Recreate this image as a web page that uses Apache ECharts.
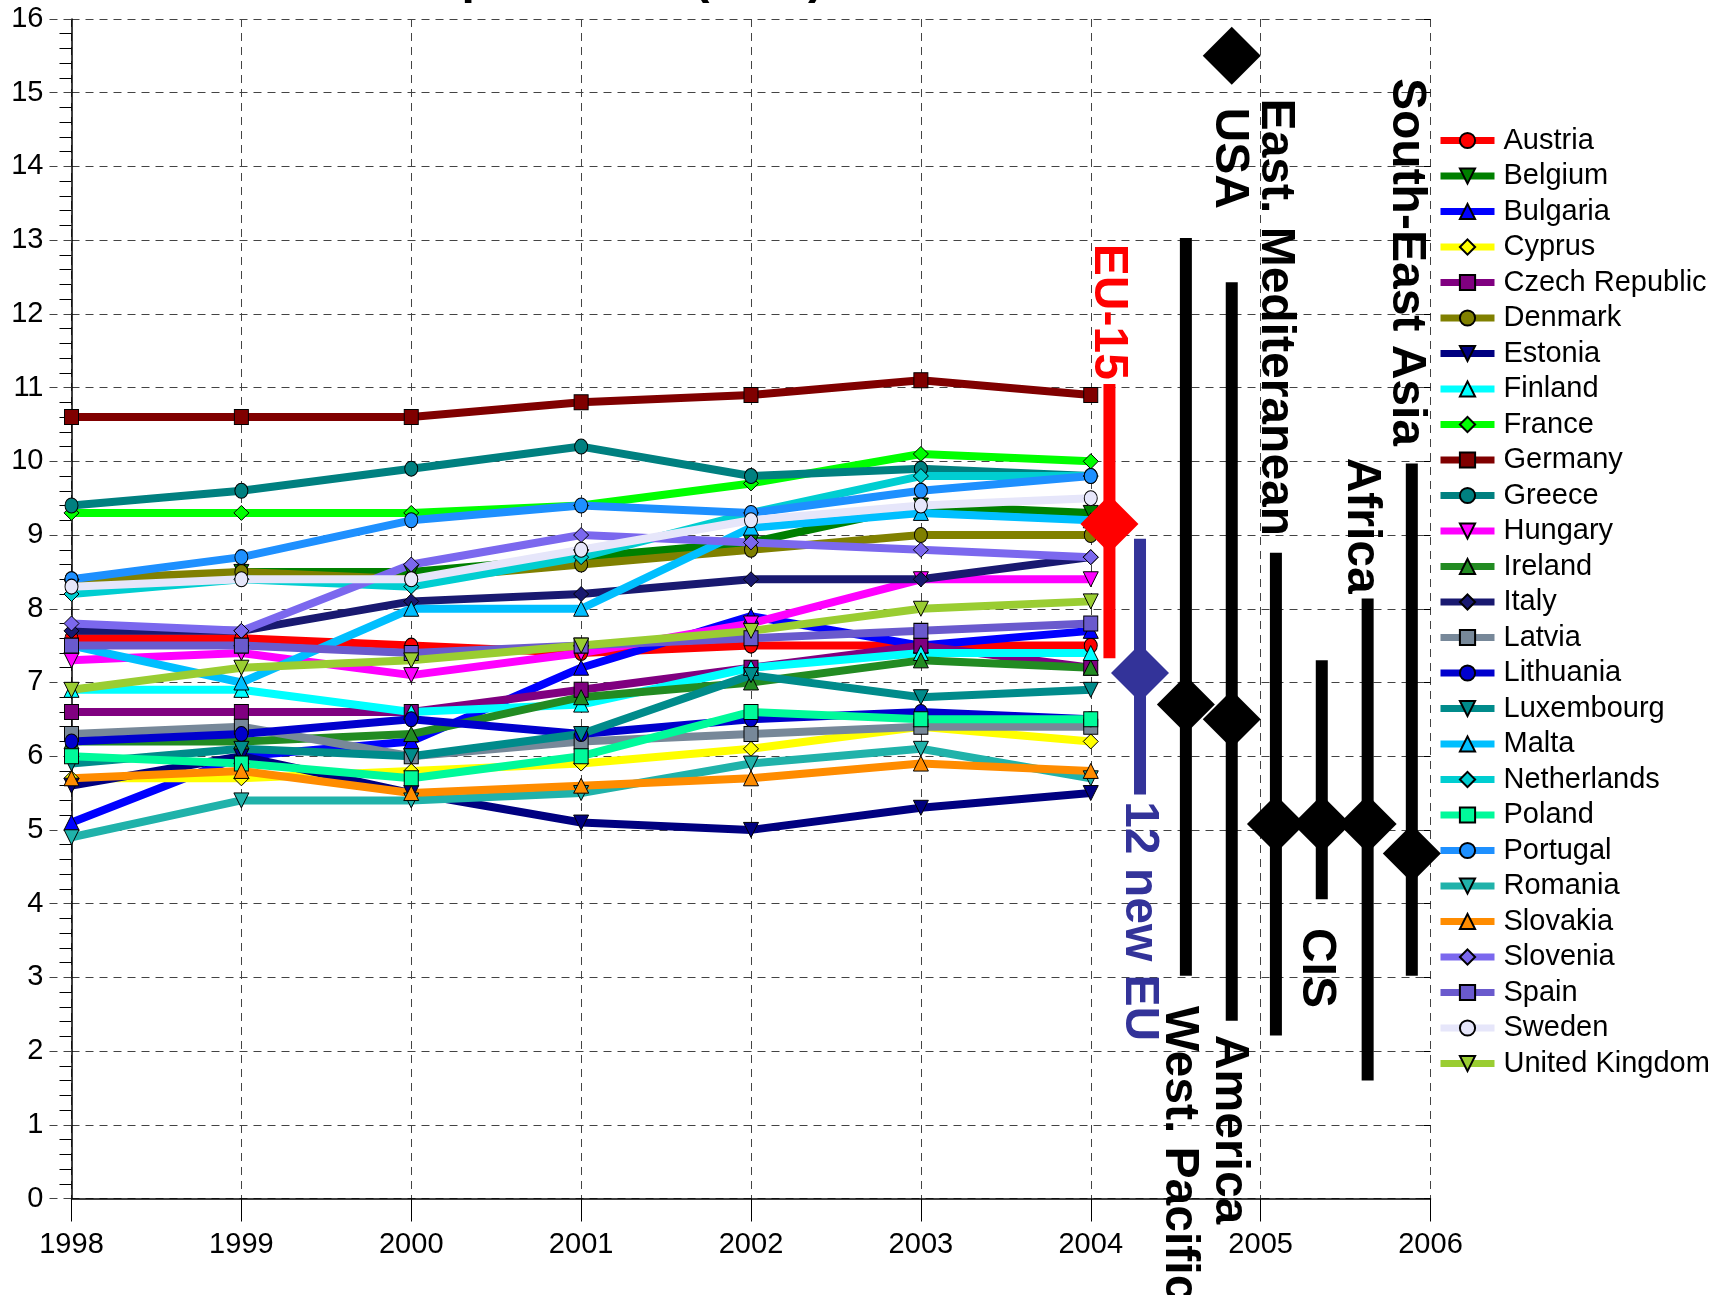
<!DOCTYPE html>
<html>
<head>
<meta charset="utf-8">
<script src="https://cdn.jsdelivr.net/npm/echarts@6/dist/echarts.min.js"></script>
<style>
html,body{margin:0;padding:0;background:#fff;}
#chart{width:1724px;height:1295px;}
</style>
</head>
<body>
<div id="chart"></div>
<script>
// ---------- data ----------
const years = [1998, 1999, 2000, 2001, 2002, 2003, 2004];
const countries = ['Austria','Belgium','Bulgaria','Cyprus','Czech Republic','Denmark','Estonia','Finland','France','Germany','Greece','Hungary','Ireland','Italy','Latvia','Lithuania','Luxembourg','Malta','Netherlands','Poland','Portugal','Romania','Slovakia','Slovenia','Spain','Sweden','United Kingdom'];

const austria     = [7.6, 7.6, 7.5, 7.4, 7.5, 7.5, 7.5];
const belgium     = [8.3, 8.5, 8.5, 8.7, 8.9, 9.4, 9.3];
const bulgaria    = [5.1, 6.0, 6.2, 7.2, 7.9, 7.5, 7.7];
const cyprus      = [5.7, 5.7, 5.8, 5.9, 6.1, 6.4, 6.2];
const czech       = [6.6, 6.6, 6.6, 6.9, 7.2, 7.5, 7.2];
const denmark     = [8.4, 8.5, 8.4, 8.6, 8.8, 9.0, 9.0];
const estonia     = [5.6, 6.0, 5.5, 5.1, 5.0, 5.3, 5.5];
const finland     = [6.9, 6.9, 6.6, 6.7, 7.2, 7.4, 7.4];
const france      = [9.3, 9.3, 9.3, 9.4, 9.7, 10.1, 10.0];
const germany     = [10.6, 10.6, 10.6, 10.8, 10.9, 11.1, 10.9];
const greece      = [9.4, 9.6, 9.9, 10.2, 9.8, 9.9, 9.8];
const hungary     = [7.3, 7.4, 7.1, 7.4, 7.8, 8.4, 8.4];
const ireland     = [6.2, 6.2, 6.3, 6.8, 7.0, 7.3, 7.2];
const italy       = [7.7, 7.7, 8.1, 8.2, 8.4, 8.4, 8.7];
const latvia      = [6.3, 6.4, 6.0, 6.2, 6.3, 6.4, 6.4];
const lithuania   = [6.2, 6.3, 6.5, 6.3, 6.5, 6.6, 6.5];
const luxembourg  = [5.9, 6.1, 6.0, 6.3, 7.1, 6.8, 6.9];
const malta       = [7.5, 7.0, 8.0, 8.0, 9.1, 9.3, 9.2];
const netherlands = [8.2, 8.4, 8.3, 8.7, 9.3, 9.8, 9.8];
const poland      = [6.0, 5.9, 5.7, 6.0, 6.6, 6.5, 6.5];
const portugal    = [8.4, 8.7, 9.2, 9.4, 9.3, 9.6, 9.8];
const romania     = [4.9, 5.4, 5.4, 5.5, 5.9, 6.1, 5.7];
const slovakia    = [5.7, 5.8, 5.5, 5.6, 5.7, 5.9, 5.8];
const slovenia    = [7.8, 7.7, 8.6, 9.0, 8.9, 8.8, 8.7];
const spain       = [7.5, 7.5, 7.4, 7.5, 7.6, 7.7, 7.8];
const sweden      = [8.3, 8.4, 8.4, 8.8, 9.2, 9.4, 9.5];
const uk          = [6.9, 7.2, 7.3, 7.5, 7.7, 8.0, 8.1];

const countryValues = [austria, belgium, bulgaria, cyprus, czech, denmark, estonia, finland, france, germany, greece, hungary, ireland, italy, latvia, lithuania, luxembourg, malta, netherlands, poland, portugal, romania, slovakia, slovenia, spain, sweden, uk];

// region summaries (mean, min, max)
const regionNames = ['EU-15', '12 new EU', 'West. Pacific', 'America', 'USA', 'East. Mediteranean', 'CIS', 'Africa', 'South-East Asia'];
const regionMean  = [9.15, 7.13, 6.7, 6.5, 15.5, 5.08, 5.08, 5.08, 4.68];
const regionLow   = [7.33, 5.48, 3.02, 2.41, null, 2.21, 4.06, 1.6, 3.02];
const regionHigh  = [11.05, 8.95, 13.03, 12.43, null, 8.76, 7.3, 8.14, 9.97];

// ---------- layout / style (not data) ----------
const regionX      = [2004.11, 2004.29, 2004.56, 2004.83, 2004.83, 2005.09, 2005.36, 2005.63, 2005.89];
const labelX       = [2004.103, 2004.285, 2004.52, 2004.814, 2004.814, 2005.085, 2005.326, 2005.591, 2005.856];
const labelStartY  = [12.95, 5.39, 2.61, 2.22, 14.8, 14.92, 3.67, 10.05, 15.2];
const regionColors = ['#ff0000', '#333399', '#000', '#000', '#000', '#000', '#000', '#000', '#000'];

const colors = ['#ff0000','#008000','#0000ff','#ffff00','#800080','#808000','#000080','#00ffff','#00ff00','#800000','#008080','#ff00ff','#228b22','#191970','#778899','#0000cd','#008b8b','#00bfff','#00ced1','#00fa9a','#1e90ff','#20b2aa','#ff8c00','#7b68ee','#6a5acd','#e6e6fa','#9acd32'];
const shapes = ['circle','down','up','diamond','rect'];

const FONT = "'Liberation Sans', Arial, sans-serif";

const series = [];
countries.forEach((name, i) => {
  const shp = shapes[i % 5];
  let symbol = shp, rot = 0, size = 15;
  if (shp === 'down') { symbol = 'triangle'; rot = 180; }
  if (shp === 'up') { symbol = 'triangle'; }
  if (shp === 'circle') { size = [13, 15]; }
  if (shp === 'rect') { size = [14, 15]; }
  series.push({
    name: name,
    type: 'line',
    data: years.map((y, k) => [y, countryValues[i][k]]),
    symbol: symbol,
    symbolRotate: rot,
    symbolSize: size,
    showAllSymbol: true,
    color: colors[i],
    lineStyle: { width: 8, color: colors[i], join: 'round' },
    itemStyle: { color: colors[i], borderColor: '#000', borderWidth: 1 },
    emphasis: { disabled: true },
    animation: false,
    z: 3
  });
});

// region bars
regionNames.forEach((name, i) => {
  if (regionLow[i] == null) return;
  series.push({
    name: '__bar' + i,
    type: 'line',
    data: [[regionX[i], regionLow[i]], [regionX[i], regionHigh[i]]],
    showSymbol: false,
    symbol: 'none',
    lineStyle: { width: 12, color: regionColors[i], cap: 'butt' },
    emphasis: { disabled: true },
    silent: true,
    animation: false,
    z: 4
  });
});
// region means
series.push({
  name: '__means',
  type: 'scatter',
  symbol: 'diamond',
  symbolSize: 58,
  data: regionNames.map((n, i) => ({ value: [regionX[i], regionMean[i]], itemStyle: { color: regionColors[i], opacity: 1 } })),
  itemStyle: { opacity: 1 },
  emphasis: { disabled: true },
  silent: true,
  animation: false,
  z: 5
});

const chart = echarts.init(document.getElementById('chart'), null, { renderer: 'canvas' });

const gridLine = { show: true, lineStyle: { color: '#444', width: 1, type: [8, 6] } };

chart.setOption({
  backgroundColor: '#fff',
  animation: false,
  grid: { left: 71.5, right: 293.5, top: 19, bottom: 96.5, containLabel: false },
  xAxis: {
    type: 'value', min: 1998, max: 2006, interval: 1,
    axisLine: { show: true, onZero: false, lineStyle: { color: '#000', width: 1.5 } },
    axisTick: { show: true, length: 23, lineStyle: { color: '#000', width: 1 } },
    axisLabel: { fontSize: 29, color: '#000', fontFamily: FONT, margin: 32, formatter: v => String(v) },
    splitLine: gridLine
  },
  yAxis: [{
    type: 'value', min: 0, max: 16, interval: 1,
    axisLine: { show: true, onZero: false, lineStyle: { color: '#000', width: 1.5 } },
    axisTick: { show: true, length: 23, lineStyle: { color: '#444', width: 1, type: [8, 6] } },
    minorTick: { show: true, splitNumber: 5, length: 12, lineStyle: { color: '#000', width: 1 } },
    axisLabel: { fontSize: 29, color: '#000', fontFamily: FONT, margin: 28 },
    splitLine: gridLine
  }, {
    type: 'value', min: 0, max: 16, interval: 1, position: 'right',
    axisLine: { show: false },
    axisTick: { show: true, inside: true, length: 7, lineStyle: { color: '#000', width: 1 } },
    axisLabel: { show: false },
    splitLine: { show: false }
  }],
  legend: {
    data: countries,
    orient: 'vertical',
    left: 1437,
    top: 126,
    padding: 0,
    itemWidth: 54,
    itemHeight: 19,
    itemGap: 6.5,
    lineStyle: { width: 7 },
    textStyle: { fontSize: 29, color: '#000', fontFamily: FONT, padding: [0, 0, 0, 4] },
    selectedMode: false
  },
  series: series
});

// labels for the region markers, positioned through the chart's scales
const graphics = [];
regionNames.forEach((name, i) => {
  const p = chart.convertToPixel({ gridIndex: 0 }, [labelX[i], labelStartY[i]]);
  graphics.push({
    type: 'text',
    x: p[0], y: p[1],
    rotation: -Math.PI / 2,
    silent: true,
    z: 10,
    style: {
      text: name,
      fill: regionColors[i],
      font: 'bold 48px ' + FONT,
      align: 'left',
      verticalAlign: 'middle'
    }
  });
});
// title (mostly above the top edge, as in the reference)
graphics.push({
  type: 'text', x: 248, y: 4, silent: true, z: 10,
  style: { text: 'Health expenditure (in %)', fill: '#000', font: 'bold 48px ' + FONT, align: 'left', verticalAlign: 'bottom' }
});
chart.setOption({ graphic: graphics });
</script>
</body>
</html>
